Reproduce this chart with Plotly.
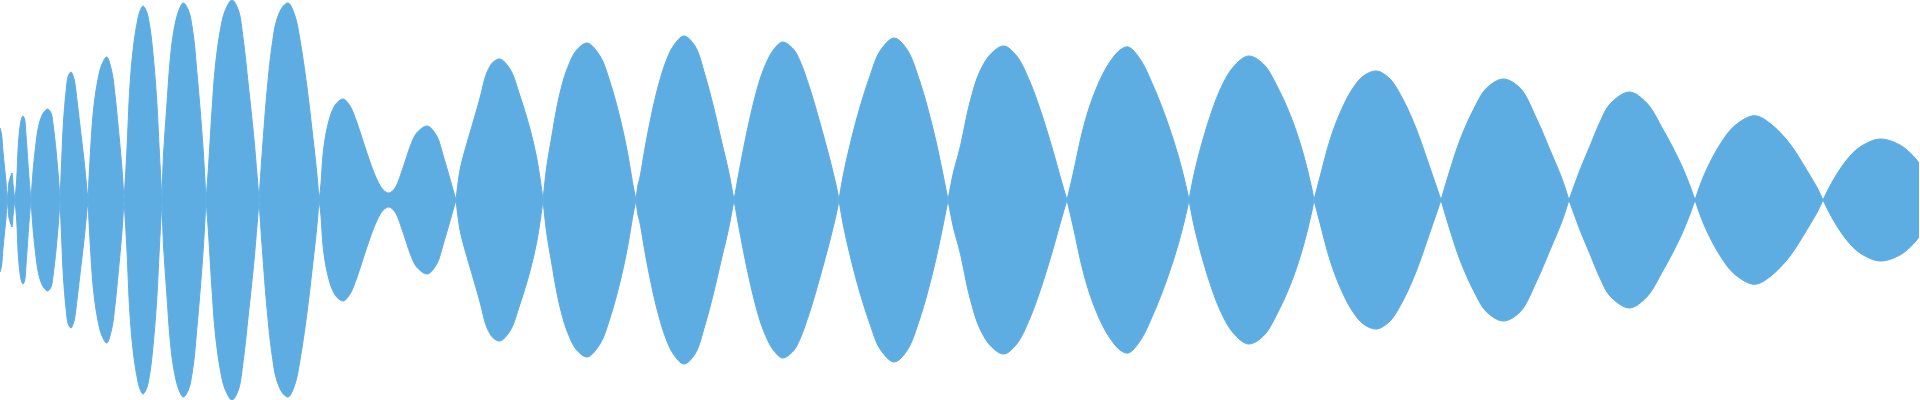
import plotly.graph_objects as go

# Envelope of the waveform (time position, amplitude).
# Each lobe runs from one zero of the envelope to the next.
time_pos = [
    0, 1.5, 3, 4.5, 6, 7,
    8, 9, 10.5, 12, 13, 14, 15,
    16.7, 18.3, 20, 21.7, 23, 24.5, 26, 28, 30, 31,
    33, 35, 37.5, 40, 43.3, 47.7, 51, 53.5, 56, 58.3, 60,
    61.5, 63.3, 66, 68.3, 71, 74, 77.3, 80.7, 84, 86.5, 88,
    90, 93.3, 97.3, 101.7, 106.7, 111.7, 115, 118.3, 121.7, 124,
    126.7, 130, 133.3, 136.7, 140, 143, 146.7, 150, 153.3, 156.7, 159.5, 162,
    163.5, 166.7, 170, 173.3, 178.3, 183.3, 188.3, 193.3, 196.7, 200, 203.3, 206,
    208.3, 211.7, 215, 220, 225, 232, 238.3, 243.3, 248.3, 253.3, 257.3, 259,
    261.7, 266.7, 271.7, 276.7, 283.3, 288.3, 295, 300, 306.7, 311.7, 316.7, 319,
    320.7, 323.3, 326.7, 331.7, 336.7, 343.3, 350, 356.7, 363.3, 370, 376.7, 383.3,
    389, 395, 403.3, 410, 416.7, 427.3, 436.7, 443.3, 450, 456,
    460, 465, 471.7, 480, 486.7, 493.3, 500, 510, 520, 530, 536.7, 541.7, 543,
    546.7, 551.7, 556, 560, 566.7, 576.7, 587.3, 600, 610, 620, 627, 633, 636,
    638, 640, 645, 650, 656.7, 665, 673.3, 684, 695, 705, 713.3, 721.7, 728.3, 734,
    740, 746.7, 755, 763.3, 773.3, 782.7, 793.3, 800, 810, 820, 830, 836.7, 839,
    843.3, 851.7, 860, 870, 880, 894, 906.7, 920, 933.3, 941.7, 948,
    953.3, 960, 970, 980, 991.7, 1004, 1016.7, 1030, 1043.3, 1053.3, 1061.7, 1067,
    1073.3, 1083.3, 1093.3, 1106.7, 1120, 1128.3, 1140, 1153.3, 1166.7, 1178.3, 1186.7, 1189,
    1195, 1206.7, 1220, 1233.3, 1248.3, 1263.3, 1280, 1293.3, 1303.3, 1311.7, 1314,
    1320, 1330, 1340, 1351.7, 1363.3, 1376.7, 1390, 1403.3, 1416.7, 1428.3, 1438.3, 1441,
    1450, 1460, 1473.3, 1486.7, 1503.3, 1520, 1536.7, 1550, 1561.7, 1569,
    1580, 1590, 1600, 1610, 1629.3, 1646.7, 1663.3, 1680, 1690, 1695,
    1703.3, 1716.7, 1733.3, 1751.7, 1760, 1773.3, 1790, 1806.7, 1818.3, 1823,
    1833.3, 1846.7, 1860, 1880, 1900, 1913.3, 1919,
]

amplitude = [
    72, 66, 48, 33, 18, 0,
    8, 18, 23, 27, 16, 7, 0,
    20, 55, 73, 82, 84, 81, 65, 36, 10, 0,
    28, 48, 68, 79, 87, 91, 87, 72, 50, 24, 0,
    35, 75, 108, 124, 128, 121, 97, 68, 40, 15, 0,
    40, 88, 117, 135, 143, 129, 105, 72, 35, 0,
    45, 115, 152, 175, 189, 194, 188, 172, 143, 100, 45, 0,
    45, 92, 138, 166, 188, 197, 190, 165, 130, 92, 48, 0,
    30, 85, 130, 168, 189, 200, 190, 160, 115, 68, 22, 0,
    40, 105, 152, 180, 194, 197, 184, 160, 115, 73, 28, 0,
    13, 48, 70, 88, 97, 101, 94, 78, 58, 38, 21, 10,
    7, 12, 33, 53, 67, 74, 64, 44, 21, 0,
    30, 50, 73, 102, 127, 138, 141, 131, 104, 71, 42, 10, 0,
    33, 63, 88, 107, 130, 150, 157, 144, 118, 82, 50, 15, 0,
    15, 23, 52, 78, 108, 136, 154, 164, 154, 125, 94, 58, 30, 0,
    33, 67, 103, 130, 150, 158, 151, 139, 111, 77, 40, 12, 0,
    25, 62, 93, 124, 149, 162, 151, 118, 70, 32, 0,
    27, 52, 98, 129, 147, 154, 144, 118, 81, 48, 18, 0,
    27, 72, 104, 133, 150, 153, 141, 114, 80, 44, 11, 0,
    30, 73, 110, 133, 144, 136, 108, 77, 46, 12, 0,
    23, 60, 87, 110, 124, 129, 121, 100, 70, 37, 8, 0,
    30, 60, 90, 112, 121, 112, 81, 50, 22, 0,
    30, 54, 78, 96, 108, 97, 70, 38, 14, 0,
    23, 50, 73, 84, 83, 74, 56, 30, 10, 0,
    20, 40, 53, 61, 55, 44, 37,
]

wave_color = "#5DADE2"

# split the envelope into lobes at its zeros (zeros are shared by neighbours)
lobes = []
cur_x, cur_a = [], []
for t, a in zip(time_pos, amplitude):
    cur_x.append(t)
    cur_a.append(a)
    if a == 0 and len(cur_x) > 1:
        lobes.append((cur_x, cur_a))
        cur_x, cur_a = [t], [a]
if len(cur_x) > 1:
    lobes.append((cur_x, cur_a))

line_style = dict(color=wave_color, width=1, shape="spline", smoothing=1,
                  simplify=False)

fig = go.Figure()
for lx, la in lobes:
    fig.add_trace(go.Scatter(
        x=lx, y=la, mode="lines", line=line_style,
        hoverinfo="skip", showlegend=False,
    ))
    fig.add_trace(go.Scatter(
        x=lx, y=[-a for a in la], mode="lines", fill="tonexty",
        fillcolor=wave_color, line=line_style,
        hoverinfo="skip", showlegend=False,
    ))

fig.update_layout(
    width=1920, height=400,
    margin=dict(l=0, r=0, t=0, b=0),
    paper_bgcolor="white", plot_bgcolor="white",
    xaxis=dict(range=[0, 1920], visible=False, fixedrange=True),
    yaxis=dict(range=[-200, 200], visible=False, fixedrange=True),
)

fig.write_html(
    "out.html",
    config={"displayModeBar": False},
    post_script="document.body.style.margin='0';document.body.style.overflow='hidden';",
)
